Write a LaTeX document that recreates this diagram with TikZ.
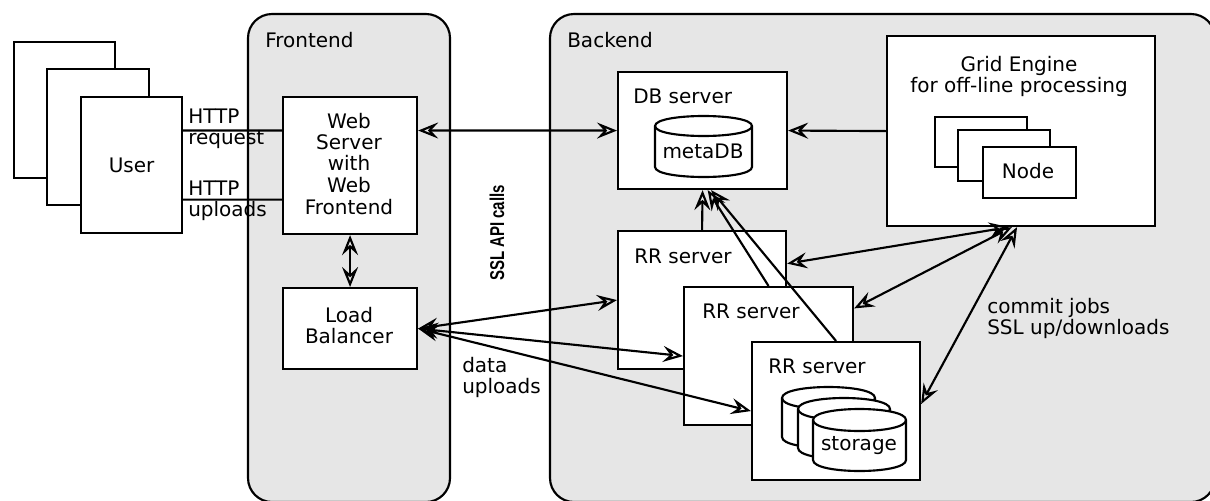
\documentclass[tikz,border=0pt]{standalone}
\usepackage{fontspec}
\setmainfont{DejaVu Sans}
\newfontfamily\apifont{Liberation Sans}
\usetikzlibrary{arrows.meta,calc}

\definecolor{panelgray}{RGB}{230,230,230}
\newcommand\mainsize{\fontsize{15}{16}\selectfont}
\newcommand\rowsl[1]{\begin{tabular}[t]{@{}l@{}}#1\end{tabular}}
\newcommand\rowsc[1]{\begin{tabular}[t]{@{}c@{}}#1\end{tabular}}
% drum-shaped storage symbol: left, right, top, bottom, ellipse radius
\newcommand\drum[5]{%
  \filldraw[link, fill=white] (#1,#3+#5) -- (#1,#4-#5)
    .. controls (#1,#4+#5/3) and (#2,#4+#5/3) .. (#2,#4-#5) -- (#2,#3+#5)
    .. controls (#2,#3-#5/3) and (#1,#3-#5/3) .. (#1,#3+#5) -- cycle;
  \draw[link] (#1,#3+#5) .. controls (#1,#3+7*#5/3) and (#2,#3+7*#5/3) .. (#2,#3+#5);
}

\tikzset{
  panel/.style={draw, line width=1.6pt, fill=panelgray, rounded corners=18pt},
  box/.style={draw, fill=white, line width=1.6pt, inner sep=0pt, anchor=north west, font=\mainsize},
  dim/.style 2 args={minimum width={#1*0.75pt}, minimum height={#2*0.75pt}},
  lbl/.style={inner sep=0pt, font=\mainsize},
  link/.style={line width=1.6pt},
  >={Stealth[open, length=15pt, width=12pt, inset=5.5pt]},
}

\begin{document}
\begin{tikzpicture}[x=0.75pt, y=-0.75pt]
\useasboundingbox (0,0) rectangle (1210,500);

% frontend and backend areas
\begin{scope}
  \clip (0,0) rectangle (1210,500);
  \draw[panel] (248,14) rectangle (450,502);
  \draw[panel] (550,14) rectangle (1215,502);
\end{scope}
\node[lbl, anchor=base west] (frontlbl) at (265,47) {Frontend};
\node[lbl, anchor=base west] (backlbl) at (567,47) {Backend};

% users
\node[box, dim={101}{136}] (u1) at (13,41) {};
\node[box, dim={102}{136}] (u2) at (46,68) {};
\node[box, dim={101}{136}] (user) at (80,96) {User};

% frontend boxes
\node[box, dim={134}{137}] (web) at (282,96) {};
\node[lbl, anchor=base] (webtxt) at (349,128) {\rowsc{Web\\Server\\with\\Web\\Frontend}};
\node[box, dim={134}{81}] (lb) at (282,287) {};
\node[lbl, anchor=base] (lbtxt) at (349,322) {\rowsc{Load\\Balancer}};

% DB server
\node[box, dim={169}{117}] (db) at (617,71) {};
\node[lbl, anchor=base west] (dbtxt) at (633,103) {DB server};
\drum{655}{752}{116}{177}{10}
\node[lbl, anchor=base] (metadb) at (703,158) {metaDB};

% grid engine
\node[box, dim={268}{190}] (grid) at (886,35) {};
\node[lbl, anchor=base] (gridtxt) at (1019,71) {\rowsc{Grid Engine\\for off-line processing}};
\node[box, dim={92}{50}] (n1) at (934,116) {};
\node[box, dim={92}{51}] (n2) at (957,129) {};
\node[box, dim={93}{51}] (n3) at (982,146) {};
\node[lbl, anchor=base] (nodetxt) at (1028,178) {Node};

% RR servers
\node[box, dim={168}{138}] (rr1) at (617,230) {};
\node[lbl, anchor=base west] (rr1txt) at (634,263) {RR server};
\node[box, dim={169}{138}] (rr2) at (683,286) {};
\node[lbl, anchor=base west] (rr2txt) at (702,318) {RR server};
\node[box, dim={168}{138}] (rr3) at (751,341) {};
\node[lbl, anchor=base west] (rr3txt) at (768,373) {RR server};
\drum{782}{875}{387}{448}{11}
\drum{798}{890}{398}{459}{11}
\drum{813}{906}{409}{471}{11}
\node[lbl, anchor=base] (storage) at (859,450) {storage};

% user to web server
\draw[link] ($(user.north east)!0.25!(user.south east)$) -- ($(web.north west)!0.248!(web.south west)$);
\draw[link] ($(user.north east)!0.75!(user.south east)$) -- ($(web.north west)!0.745!(web.south west)$);
\node[lbl, anchor=base west] (httpreq) at (188,123) {\rowsl{HTTP\\request}};
\node[lbl, anchor=base west] (httpup) at (188,195) {\rowsl{HTTP\\uploads}};

% frontend connections
\draw[link, <->] ($(web.north east)!0.248!(web.south east)$) -- (db.west);
\draw[link, <->] (web.south) -- (lb.north);
\draw[link, <->] (lb.east) -- (rr1.west);
\draw[link, <->] (lb.east) -- (rr2.west);
\draw[link, <->] (lb.east) -- (rr3.west);
\node[lbl, anchor=base west] (datalbl) at (462,372) {\rowsl{data\\uploads}};
\node[inner sep=0pt, rotate=90] (ssl) at (497,233)
  {\apifont\fontsize{15}{16}\selectfont\bfseries\scalebox{0.75}[1]{SSL API calls}};

% backend connections
\draw[link, ->] (grid.west) -- (db.east);
\draw[link, ->] (rr1.north) -- (db.south);
\draw[link, ->] (rr2.north) -- ($(db.south west)!0.53!(db.south east)$);
\draw[link, ->] (rr3.north) -- ($(db.south west)!0.55!(db.south east)$);
\draw[link, <->] ($(rr1.north east)!0.24!(rr1.south east)$) -- ($(grid.south west)!0.455!(grid.south east)$);
\draw[link, <->] ($(rr2.north east)!0.16!(rr2.south east)$) -- ($(grid.south west)!0.466!(grid.south east)$);
\draw[link, <->] ($(rr3.north east)!0.45!(rr3.south east)$) -- ($(grid.south west)!0.485!(grid.south east)$);
\node[lbl, anchor=base west] (commitlbl) at (987,313) {\rowsl{commit jobs\\SSL up/downloads}};
\end{tikzpicture}
\end{document}
